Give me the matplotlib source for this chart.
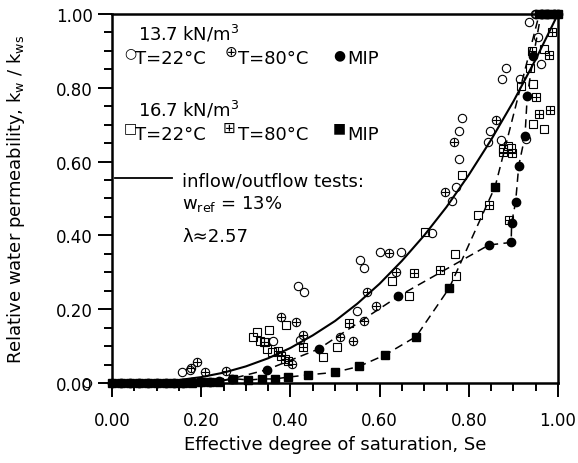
import numpy as np
import matplotlib.pyplot as plt
from matplotlib.ticker import MultipleLocator, FormatStrFormatter

plt.rcParams['font.family'] = ['DejaVu Sans']

# 13.7 kN/m3, T = 22 C (open circles)
se_c22 = [0.156, 0.175, 0.361, 0.422, 0.418, 0.430, 0.549, 0.556, 0.566, 0.600,
          0.649, 0.717, 0.762, 0.771, 0.777, 0.779, 0.784, 0.842, 0.848, 0.872,
          0.875, 0.883, 0.915, 0.928, 0.934, 0.956, 0.963, 0.950, 0.970]
kw_c22 = [0.029, 0.036, 0.115, 0.117, 0.264, 0.247, 0.196, 0.332, 0.313, 0.354,
          0.354, 0.406, 0.494, 0.530, 0.607, 0.684, 0.718, 0.654, 0.682, 0.659,
          0.824, 0.853, 0.824, 0.660, 0.977, 0.937, 0.865, 1.000, 1.000]

# 13.7 kN/m3, T = 80 C (circle with cross)
se_c80 = [0.178, 0.190, 0.208, 0.256, 0.380, 0.413, 0.429, 0.403, 0.511, 0.541,
          0.565, 0.571, 0.591, 0.620, 0.636, 0.747, 0.767, 0.861, 0.948, 0.965]
kw_c80 = [0.042, 0.056, 0.029, 0.032, 0.178, 0.166, 0.130, 0.051, 0.126, 0.115,
          0.169, 0.247, 0.208, 0.352, 0.300, 0.518, 0.652, 0.714, 1.000, 1.000]

# 13.7 kN/m3, MIP (filled circles)
se_mip137 = [0.00, 0.02, 0.04, 0.06, 0.08, 0.10, 0.12, 0.14, 0.16, 0.18, 0.20,
             0.22, 0.24, 0.27, 0.347, 0.463, 0.642, 0.845, 0.895, 0.896, 0.905,
             0.912, 0.926, 0.931, 0.945, 0.962, 0.975, 0.990, 1.000]
kw_mip137 = [0.000, 0.000, 0.000, 0.000, 0.000, 0.000, 0.000, 0.000, 0.001, 0.002,
             0.003, 0.004, 0.006, 0.012, 0.036, 0.092, 0.235, 0.374, 0.381, 0.433,
             0.491, 0.589, 0.670, 0.777, 0.887, 1.000, 1.000, 1.000, 1.000]

# 16.7 kN/m3, T = 22 C (open squares)
se_s22 = [0.315, 0.324, 0.332, 0.343, 0.348, 0.353, 0.358, 0.389, 0.472, 0.504,
          0.627, 0.667, 0.702, 0.769, 0.772, 0.785, 0.820, 0.877, 0.887, 0.894,
          0.917, 0.937, 0.943, 0.945, 0.968, 0.969, 0.975]
kw_s22 = [0.126, 0.137, 0.115, 0.110, 0.092, 0.144, 0.083, 0.158, 0.071, 0.098,
          0.277, 0.235, 0.408, 0.349, 0.291, 0.564, 0.455, 0.634, 0.643, 0.637,
          0.804, 0.853, 0.809, 0.702, 0.688, 0.905, 1.000]

# 16.7 kN/m3, T = 80 C (square with cross)
se_s80 = [0.341, 0.373, 0.380, 0.388, 0.395, 0.428, 0.531, 0.676, 0.735, 0.846,
          0.877, 0.891, 0.897, 0.941, 0.950, 0.958, 0.980, 0.982, 0.986, 0.990]
kw_s80 = [0.110, 0.088, 0.074, 0.065, 0.060, 0.098, 0.163, 0.297, 0.307, 0.482,
          0.625, 0.441, 0.622, 0.901, 0.774, 0.729, 0.890, 0.741, 0.950, 1.000]

# 16.7 kN/m3, MIP (filled squares)
se_mip167 = [0.00, 0.02, 0.04, 0.06, 0.08, 0.10, 0.12, 0.14, 0.16, 0.18, 0.20,
             0.22, 0.24, 0.272, 0.306, 0.336, 0.365, 0.395, 0.440, 0.500, 0.554,
             0.612, 0.682, 0.756, 0.859, 0.958, 0.970, 0.985, 1.000]
kw_mip167 = [0.000, 0.000, 0.000, 0.000, 0.000, 0.000, 0.000, 0.000, 0.000, 0.001,
             0.002, 0.003, 0.004, 0.012, 0.008, 0.011, 0.011, 0.016, 0.022, 0.029,
             0.045, 0.076, 0.126, 0.257, 0.532, 1.000, 1.000, 1.000, 1.000]

# inflow/outflow tests, lambda ~ 2.57
se_fit = [0.00, 0.05, 0.10, 0.15, 0.20, 0.25, 0.30, 0.35, 0.40, 0.45, 0.50,
          0.55, 0.60, 0.65, 0.70, 0.75, 0.80, 0.85, 0.90, 0.95, 1.00]
kw_fit = [0.000, 0.0005, 0.003, 0.008, 0.016, 0.028, 0.045, 0.067, 0.095, 0.129,
          0.168, 0.215, 0.269, 0.331, 0.400, 0.477, 0.564, 0.659, 0.763, 0.877, 1.000]

# point drawn left of the axis at Se = 0
se_zero = [-0.057]
kw_zero = [0.0]

fig = plt.figure(figsize=(5.78, 4.64), dpi=100)
ax = fig.add_axes([0.1938, 0.1724, 0.7716, 0.7953])

ms = 6
mew = 0.8
dash = (0, (5.5, 3.5))

ax.plot(se_fit, kw_fit, '-', color='k', lw=1.5, clip_on=False, zorder=2)
ax.plot(se_mip137, kw_mip137, linestyle=dash, color='k', lw=1.1, marker='o', ms=ms,
        mfc='k', mec='k', clip_on=False, zorder=3)
ax.plot(se_mip167, kw_mip167, linestyle=dash, color='k', lw=1.1, marker='s', ms=ms,
        mfc='k', mec='k', clip_on=False, zorder=3)

ax.plot(se_c22, kw_c22, 'o', ms=ms, mfc='none', mec='k', mew=mew, clip_on=False)
ax.plot(se_zero, kw_zero, 'o', ms=ms, mfc='none', mec='k', mew=mew, clip_on=False)
ax.plot(se_c80, kw_c80, 'o', ms=ms, mfc='none', mec='k', mew=mew, clip_on=False)
ax.plot(se_c80, kw_c80, '+', ms=ms, mec='k', mew=mew, clip_on=False)
ax.plot(se_s22, kw_s22, 's', ms=ms, mfc='none', mec='k', mew=mew, clip_on=False)
ax.plot(se_s80, kw_s80, 's', ms=ms, mfc='none', mec='k', mew=mew, clip_on=False)
ax.plot(se_s80, kw_s80, '+', ms=ms, mec='k', mew=mew, clip_on=False)

ax.set_xlim(0, 1)
ax.set_ylim(0, 1)
ax.xaxis.set_major_locator(MultipleLocator(0.2))
ax.xaxis.set_minor_locator(MultipleLocator(0.05))
ax.yaxis.set_major_locator(MultipleLocator(0.2))
ax.yaxis.set_minor_locator(MultipleLocator(0.05))
ax.xaxis.set_major_formatter(FormatStrFormatter('%.2f'))
ax.yaxis.set_major_formatter(FormatStrFormatter('%.2f'))
ax.tick_params(which='major', direction='out', length=10, width=1.4, labelsize=12)
ax.tick_params(which='minor', direction='out', length=5.5, width=1.4)
ax.tick_params(axis='x', which='major', pad=10)
ax.tick_params(axis='y', which='major', pad=4)
for s in ax.spines.values():
    s.set_linewidth(1.8)

ax.set_xlabel('Effective degree of saturation, Se', fontsize=13)
ax.set_ylabel(r'Relative water permeability, k$_\mathregular{w}$ / k$_\mathregular{ws}$', fontsize=13)
ax.xaxis.set_label_coords(0.5, -0.14)
ax.yaxis.set_label_coords(-0.19, 0.5)

# legend written as text
fs = 13
gs = 10
gs2 = 11
tr = ax.transAxes
ax.text(0.058, 0.930, r'13.7 kN/m$^\mathregular{3}$', fontsize=fs, transform=tr)
ax.text(0.040, 0.896, '○', fontsize=gs, ha='center', va='center', transform=tr)
ax.text(0.052, 0.867, 'T=22°C', fontsize=fs, transform=tr)
ax.text(0.266, 0.899, '⊕', fontsize=gs2, ha='center', va='center', transform=tr)
ax.text(0.283, 0.867, 'T=80°C', fontsize=fs, transform=tr)
ax.text(0.510, 0.892, '●', fontsize=gs, ha='center', va='center', transform=tr)
ax.text(0.527, 0.867, 'MIP', fontsize=fs, transform=tr)

ax.text(0.058, 0.724, r'16.7 kN/m$^\mathregular{3}$', fontsize=fs, transform=tr)
ax.text(0.040, 0.693, '□', fontsize=gs, ha='center', va='center', transform=tr)
ax.text(0.052, 0.661, 'T=22°C', fontsize=fs, transform=tr)
ax.text(0.262, 0.693, '⊞', fontsize=gs2, ha='center', va='center', transform=tr)
ax.text(0.283, 0.661, 'T=80°C', fontsize=fs, transform=tr)
ax.text(0.510, 0.693, '■', fontsize=gs, ha='center', va='center', transform=tr)
ax.text(0.527, 0.661, 'MIP', fontsize=fs, transform=tr)

ax.plot([0.007, 0.135], [0.556, 0.556], '-', color='k', lw=1.3, transform=tr)
ax.text(0.157, 0.534, 'inflow/outflow tests:', fontsize=fs, transform=tr)
ax.text(0.157, 0.475, r'w$_\mathregular{ref}$ = 13%', fontsize=fs, transform=tr)
ax.text(0.157, 0.385, 'λ≈2.57', fontsize=fs, transform=tr)

fig.savefig('out.png', dpi=100)
